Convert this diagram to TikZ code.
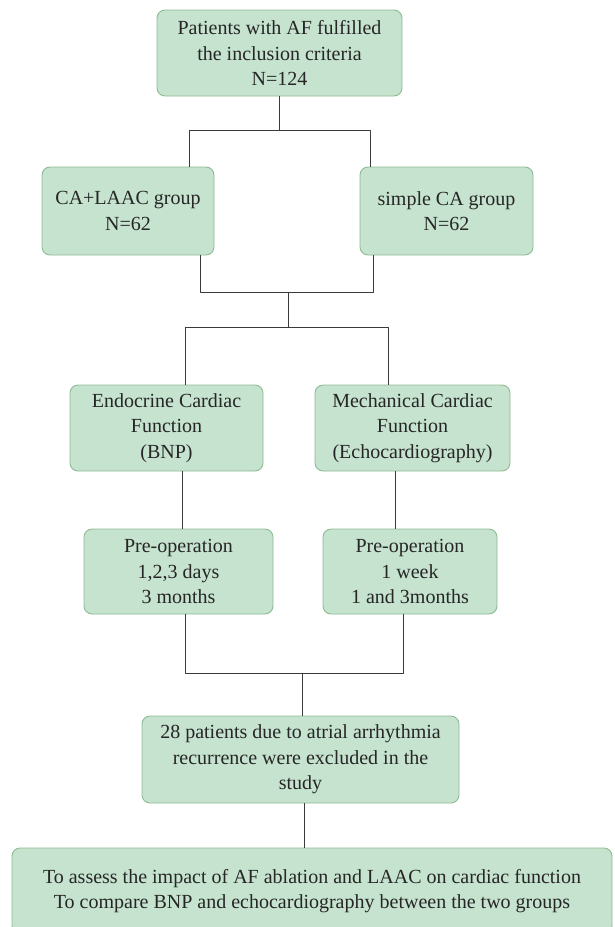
\documentclass[tikz,border=0pt]{standalone}
\usepackage{fontspec}
\setmainfont{Liberation Serif}
\definecolor{boxfill}{HTML}{C5E3CE}
\definecolor{boxline}{HTML}{8DBB92}
\definecolor{linkgray}{HTML}{3A3A3A}
\begin{document}
\begin{tikzpicture}[x=1pt, y=-1pt, line join=round,
    font=\fontsize{20}{25.5}\selectfont,
    box/.style={draw=boxline, fill=boxfill, line width=0.9pt, rounded corners=8pt,
        align=center, inner sep=0pt, outer sep=0pt, text=black!85},
    link/.style={draw=linkgray, line width=1pt}]
    \useasboundingbox (0,0) rectangle (614,927);
    \clip (0,0) rectangle (614,927);
    % boxes
    \node[box, minimum width=245, minimum height=86] (incl) at (279.5,53)
        {Patients with AF fulfilled\\the inclusion criteria\\N=124};
    \node[box, minimum width=172, minimum height=88] (laac) at (128,211) {CA+LAAC group\\N=62};
    \node[box, minimum width=173, minimum height=88] (simple) at (446.5,211) {simple CA group\\N=62};
    \node[box, minimum width=193, minimum height=86] (endo) at (166.5,428)
        {Endocrine Cardiac\\Function\\(BNP)};
    \node[box, minimum width=195, minimum height=86] (mech) at (412.5,428)
        {Mechanical Cardiac\\Function\\(Echocardiography)};
    \node[box, minimum width=189, minimum height=85] (bnptime) at (178.5,571.5)
        {Pre-operation\\1,2,3 days\\3 months};
    \node[box, minimum width=174, minimum height=85] (echotime) at (410,571.5)
        {Pre-operation\\1 week\\1 and 3months};
    \node[box, minimum width=317, minimum height=87] (excl) at (300.5,759.5)
        {28 patients due to atrial arrhythmia\\recurrence were excluded in the\\study};
    \node[box, minimum width=600, minimum height=86] (aim) at (312,891)
        {To assess the impact of AF ablation and LAAC on cardiac function\\To compare BNP and echocardiography between the two groups};
    % connectors
    \coordinate (j1) at (279.5,130);
    \coordinate (j2) at (288,292);
    \coordinate (j3) at (288,327);
    \coordinate (j4) at (302,673);
    \draw[link] (incl.south) -- (j1);
    \draw[link] (j1) -| ([xshift=61]laac.north);
    \draw[link] (j1) -| ([xshift=-76.5]simple.north);
    \draw[link] ([xshift=72]laac.south) |- (j2);
    \draw[link] ([xshift=-73.5]simple.south) |- (j2);
    \draw[link] (j2) -- (j3);
    \draw[link] (j3) -| ([xshift=18.5]endo.north);
    \draw[link] (j3) -| ([xshift=-24.5]mech.north);
    \draw[link] ([xshift=15.5]endo.south) -- ([xshift=15.5]endo.south |- bnptime.north);
    \draw[link] ([xshift=-17.5]mech.south) -- ([xshift=-17.5]mech.south |- echotime.north);
    \draw[link] ([xshift=6.5]bnptime.south) |- (j4);
    \draw[link] ([xshift=-7]echotime.south) |- (j4);
    \draw[link] (j4) -- (j4 |- excl.north);
    \draw[link] ([xshift=3.5]excl.south) -- ([xshift=3.5]excl.south |- aim.north);
\end{tikzpicture}
\end{document}
